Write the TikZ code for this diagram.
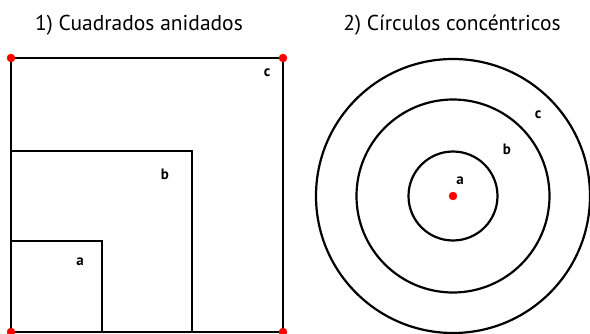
\documentclass[tikz,border=0pt]{standalone}
\usepackage{tkz-euclide}
\usepackage{fontspec}
\setmainfont{PT Sans}

\begin{document}
\begin{tikzpicture}[x=1pt,y=1pt]
\useasboundingbox (0,0) rectangle (590,333);
\tkzDefPoints{11/1/A, 283/1/B, 283/275/C, 11/275/D, 192/182/E, 102/92/F}
\tkzDefPoints{453/137/O, 590/137/P, 549.5/137/Q, 497.5/137/R}
\draw [line width=2.2pt](A) rectangle (C);
\draw [line width=2.2pt](A) rectangle (E);
\draw [line width=2.2pt](A) rectangle (F);
\tkzDrawCircle[color=black,line width=2.2pt](O,P)
\tkzDrawCircle[color=black,line width=2.2pt](O,Q)
\tkzDrawCircle[color=black,line width=2.2pt](O,R)
\tkzDrawPoints[color=red,fill=red,size=8](A,B,C,D,O)
\node (tsq) at (139,308) {\fontsize{21.5}{26}\selectfont 1) Cuadrados anidados};
\node (tci) at (452,308) {\fontsize{21.5}{26}\selectfont 2) Círculos concéntricos};
\node (sa) at (80,71) {\fontsize{15}{18}\selectfont\bfseries a};
\node (sb) at (165,159) {\fontsize{15}{18}\selectfont\bfseries b};
\node (sc) at (267,260) {\fontsize{15}{18}\selectfont\bfseries c};
\node (ca) at (460,152) {\fontsize{15}{18}\selectfont\bfseries a};
\node (cb) at (507,184) {\fontsize{15}{18}\selectfont\bfseries b};
\node (cc) at (538,218) {\fontsize{15}{18}\selectfont\bfseries c};
\end{tikzpicture}
\end{document}
